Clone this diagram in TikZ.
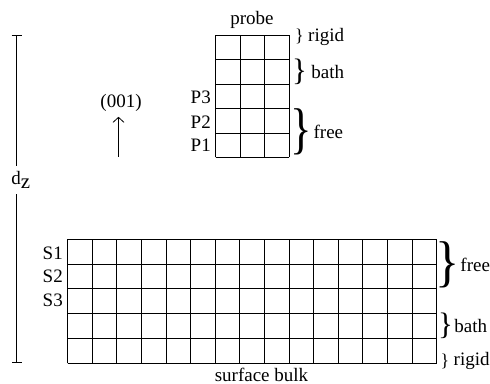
\documentclass[tikz,border=0pt]{standalone}
\usepackage{fontspec}
\setmainfont{Liberation Serif}
\usepackage{tikz}
\usetikzlibrary{arrows.meta, positioning}

\begin{document}
\begin{tikzpicture}[
    x=1pt, y=1pt,
    cell/.style={draw=black, line width=0.9pt},
    lbl/.style={font=\fontsize{19}{21}\selectfont, inner sep=0pt},
    layerlbl/.style={lbl, anchor=east},
    rulerline/.style={draw=black, line width=0.9pt},
    axisline/.style={-{Straight Barb[length=5pt, width=11pt]}, draw=black, line width=0.8pt},
    smallbrace/.style={font=\fontsize{18}{20}\selectfont, inner sep=0pt},
    midbrace/.style={font=\fontsize{31}{33}\selectfont, inner sep=0pt},
    bigbrace/.style={font=\fontsize{56}{58}\selectfont, inner sep=0pt}
]
\useasboundingbox (0,0) rectangle (490,383);

% Probe slab (top)
\coordinate (probeSW) at (215.5,225.5);
\coordinate (probeNE) at (289,348);
\draw[cell, xstep=24.5, ystep=24.5, shift={(215.5,225.5)}] (0,0) grid (73.5,122.5);
\node[lbl, above=6pt of probeNE, xshift=-37pt] (probe) {probe};

\node[layerlbl] (pthree) at (211,285.5) {P3};
\node[layerlbl] (ptwo) at (211,261) {P2};
\node[layerlbl] (pone) at (211,237.5) {P1};

\node[smallbrace] (prigidb) at (299.5,346.5) {\}};
\node[lbl, right=4pt of prigidb] (prigid) {rigid};
\node[midbrace] (pbathb) at (299.5,311) {\}};
\node[lbl, right=4pt of pbathb] (pbath) {bath};
\node[bigbrace, xscale=0.8] (pfreeb) at (301,251) {\}};
\node[lbl, right=1.5pt of pfreeb] (pfree) {free};

% Surface slab (bottom)
\coordinate (surfSW) at (67.7,19.7);
\coordinate (surfNE) at (436.7,143.7);
\draw[cell, xstep=24.6, ystep=24.8, shift={(67.7,19.7)}] (0,0) grid (369,124);
\node[lbl] (surface) at (261.5,8) {surface bulk};

\node[layerlbl] (sone) at (63,130) {S1};
\node[layerlbl] (stwo) at (63,106.5) {S2};
\node[layerlbl] (sthree) at (63,83) {S3};

\node[bigbrace, xscale=0.9] (sfreeb) at (447.5,118) {\}};
\node[lbl, right=0.5pt of sfreeb] (sfree) {free};
\node[midbrace] (sbathb) at (445.5,57) {\}};
\node[lbl, right=1pt of sbathb] (sbath) {bath};
\node[smallbrace] (srigidb) at (445,22) {\}};
\node[lbl, right=4pt of srigidb] (srigid) {rigid};

% Growth direction
\node[lbl] (axis) at (121,280) {(001)};
\coordinate (axisbase) at (118.5,226);
\draw[axisline] (axisbase) -- ([yshift=-5pt]axisbase |- axis.south);

% Slab separation
\coordinate (dztop) at (16.7,348);
\coordinate (dzbot) at (16.7,20);
\node[lbl, minimum height=28pt] (dz) at (21,203) {d$_{\scalebox{1.1}{$\mathrm{z}$}}$};
\draw[rulerline, {Bar[width=10pt]}-] (dztop) -- (dztop |- dz.north);
\draw[rulerline, -{Bar[width=10pt]}] (dztop |- dz.south) -- (dzbot);
\end{tikzpicture}
\end{document}
